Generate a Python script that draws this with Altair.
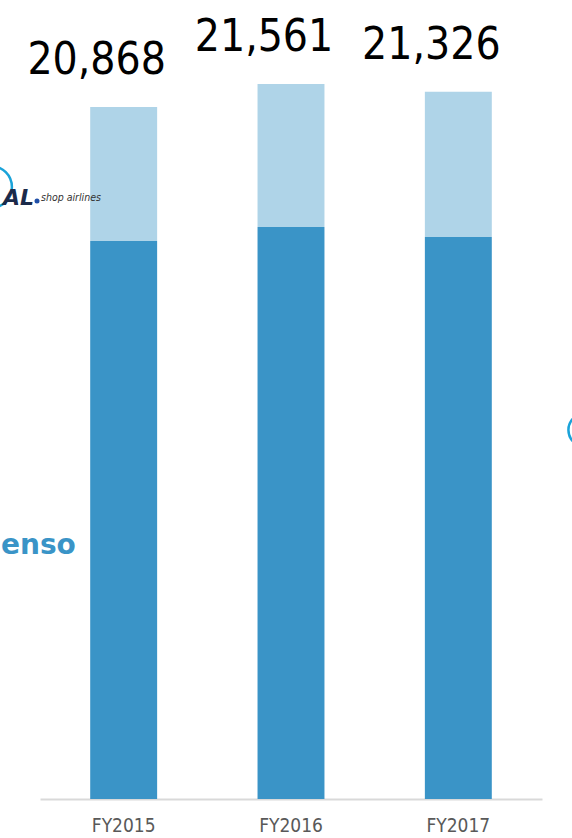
import altair as alt
import pandas as pd

years = ["FY2015", "FY2016", "FY2017"]
totals = [20868, 21561, 21326]
lower = [16827, 17249, 16948]
upper = [t - l for t, l in zip(totals, lower)]
segments = ["lower", "upper"]
colors = ["#3A94C7", "#AFD4E8"]

rows = []
for y, lo, up in zip(years, lower, upper):
    rows.append({"year": y, "segment": "lower", "order": 0, "value": lo})
    rows.append({"year": y, "segment": "upper", "order": 1, "value": up})
df = pd.DataFrame(rows)
tot_df = pd.DataFrame({"year": years, "total": totals,
                       "label": [f"{t:,}" for t in totals]})

FONT = "DejaVu Sans Condensed"

x_enc = alt.X("year:N", sort=years,
              scale=alt.Scale(paddingInner=0.6, paddingOuter=0.3),
              axis=alt.Axis(title=None, ticks=False, labelAngle=0,
                            labelFont=FONT, labelFontSize=19,
                            labelColor="#595959", labelPadding=17,
                            domainColor="#D9D9D9", domainWidth=2,
                            grid=False))
y_scale = alt.Scale(domain=[0, 24095], nice=False, zero=True)

bars = alt.Chart(df).mark_bar().encode(
    x=x_enc,
    y=alt.Y("value:Q", stack="zero", scale=y_scale, axis=None),
    color=alt.Color("segment:N", scale=alt.Scale(domain=segments, range=colors),
                    legend=None),
    order=alt.Order("order:Q"),
)

labels = alt.Chart(tot_df).mark_text(
    font=FONT, fontSize=44, color="#000000", baseline="alphabetic",
    align="center", dy=-33, dx=-27,
).encode(
    x=alt.X("year:N", sort=years),
    y=alt.Y("total:Q", scale=y_scale),
    text="label:N",
)

# decorative partial logos at the edges
logo_ring_left = alt.Chart(pd.DataFrame({"a": [0]})).mark_point(
    shape="circle", filled=False, stroke="#1AA3D9", strokeWidth=2.5, size=1750,
    opacity=1, clip=False,
).encode(x=alt.value(-49), y=alt.value(187))
logo_al = alt.Chart(pd.DataFrame({"t": ["AL"]})).mark_text(
    font="DejaVu Sans", fontSize=22, fontWeight="bold", fontStyle="italic",
    color="#1B2A4A", align="left", baseline="alphabetic",
).encode(x=alt.value(-37), y=alt.value(205), text="t:N")
logo_dot = alt.Chart(pd.DataFrame({"a": [0]})).mark_point(
    shape="circle", filled=True, color="#1F4FA8", size=25, opacity=1,
).encode(x=alt.value(-3), y=alt.value(201))
logo_shop = alt.Chart(pd.DataFrame({"t": ["shop airlines"]})).mark_text(
    font="DejaVu Sans Condensed", fontSize=10.5, fontStyle="italic",
    color="#333333", align="left", baseline="alphabetic",
).encode(x=alt.value(1), y=alt.value(201), text="t:N")
logo_enso = alt.Chart(pd.DataFrame({"t": ["enso"]})).mark_text(
    font="DejaVu Sans", fontSize=28, fontWeight="bold",
    color="#3A94C7", align="left", baseline="alphabetic",
).encode(x=alt.value(-39), y=alt.value(554), text="t:N")
logo_ring_right = alt.Chart(pd.DataFrame({"a": [0]})).mark_point(
    shape="circle", filled=False, stroke="#1AA3D9", strokeWidth=2.5, size=1100,
    opacity=1, clip=False,
).encode(x=alt.value(545), y=alt.value(430))

chart = alt.layer(bars, labels, logo_ring_left, logo_al, logo_dot, logo_shop,
                  logo_enso, logo_ring_right).properties(
    width=502, height=799,
    background="white",
    padding={"left": 40, "top": 0, "right": 30, "bottom": 39},
    autosize=alt.AutoSizeParams(type="none"),
).configure_view(strokeWidth=0, stroke="transparent")

chart.save("out.html", embed_options={"renderer": "svg", "actions": False})
